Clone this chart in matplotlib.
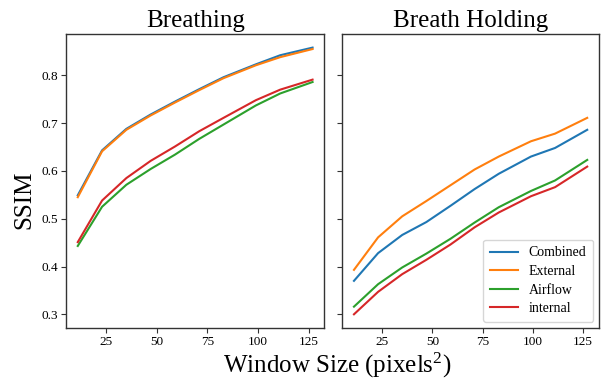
import matplotlib
matplotlib.use("Agg")
import matplotlib.pyplot as plt

plt.rcParams['font.family'] = ['Liberation Serif', 'DejaVu Serif']
plt.rcParams['mathtext.fontset'] = 'custom'
plt.rcParams['mathtext.rm'] = 'Liberation Serif'
plt.rcParams['mathtext.it'] = 'Liberation Serif:italic'

window = [11, 23, 35, 47, 59, 71, 83, 99, 111, 127]
labels = ["Combined", "External", "Airflow", "internal"]
colors = ["#1f77b4", "#ff7f0e", "#2ca02c", "#d62728"]

breathing = {
    "Combined": [0.549, 0.643, 0.688, 0.718, 0.745, 0.771, 0.796, 0.823, 0.842, 0.858],
    "External": [0.545, 0.641, 0.686, 0.716, 0.743, 0.769, 0.794, 0.821, 0.838, 0.855],
    "Airflow":  [0.443, 0.525, 0.571, 0.604, 0.634, 0.667, 0.697, 0.737, 0.762, 0.786],
    "internal": [0.451, 0.538, 0.585, 0.621, 0.651, 0.683, 0.711, 0.748, 0.770, 0.791],
}
holding = {
    "Combined": [0.370, 0.428, 0.466, 0.493, 0.527, 0.562, 0.594, 0.630, 0.648, 0.686],
    "External": [0.393, 0.461, 0.505, 0.537, 0.570, 0.603, 0.630, 0.662, 0.678, 0.711],
    "Airflow":  [0.316, 0.363, 0.398, 0.427, 0.458, 0.492, 0.524, 0.558, 0.580, 0.623],
    "internal": [0.300, 0.347, 0.384, 0.414, 0.446, 0.482, 0.513, 0.547, 0.566, 0.609],
}
titles = ["Breathing", "Breath Holding"]

fig = plt.figure(figsize=(6.08, 3.85), dpi=100)
ax1 = fig.add_axes([0.1086, 0.149, 0.4248, 0.762])
ax2 = fig.add_axes([0.563, 0.149, 0.422, 0.762], sharey=ax1)

for ax, data, title in zip([ax1, ax2], [breathing, holding], titles):
    for lab, col in zip(labels, colors):
        ax.plot(window, data[lab], color=col, lw=1.5, label=lab)
    ax.set_title(title, fontsize=18, pad=5)
    ax.set_xticks([25, 50, 75, 100, 125])
    ax.tick_params(labelsize=9.5, length=3.5, width=0.8, color="#333333", pad=2.5)
    for s in ax.spines.values():
        s.set_color("#333333")
        s.set_linewidth(1.0)

ax1.set_yticks([0.3, 0.4, 0.5, 0.6, 0.7, 0.8])
plt.setp(ax2.get_yticklabels(), visible=False)

ax2.legend(loc="lower right", fontsize=10, frameon=True, handlelength=2.0,
           borderpad=0.5, labelspacing=0.4, borderaxespad=0.4)

fig.text(0.04, 0.48, "SSIM", rotation=90, fontsize=18, ha="center", va="center")
fig.text(0.555, 0.05, "Window Size (pixels$^{2}$)", fontsize=18,
         ha="center", va="center")

fig.savefig("out.png", dpi=100)
